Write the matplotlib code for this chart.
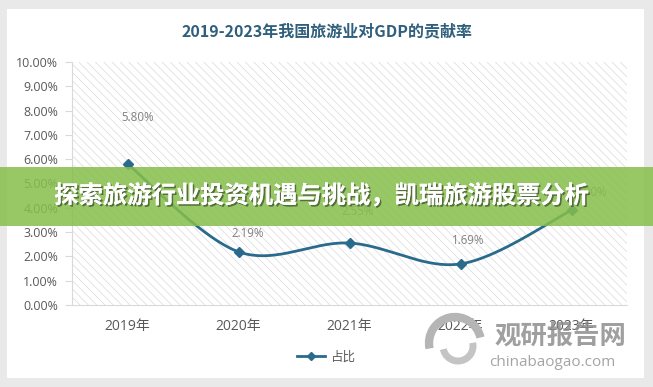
import numpy as np
import matplotlib
matplotlib.use("Agg")
import matplotlib.pyplot as plt
from matplotlib.patches import Rectangle, Arc
import matplotlib.patheffects as pe
from matplotlib.lines import Line2D

years = ["2019年", "2020年", "2021年", "2022年", "2023年"]
values = [5.80, 2.19, 2.55, 1.69, 3.90]
value_labels = ["5.80%", "2.19%", "2.55%", "1.69%", "3.90%"]
yticks = [0, 1, 2, 3, 4, 5, 6, 7, 8, 9, 10]
series_name = "占比"
title = "2019-2023年我国旅游业对GDP的贡献率"
banner = "探索旅游行业投资机遇与挑战，凯瑞旅游股票分析"

FAM = ["Open Sans", "Noto Sans CJK SC", "DejaVu Sans"]
CJK = ["Noto Sans CJK SC", "DejaVu Sans"]
plt.rcParams['font.family'] = FAM
plt.rcParams['hatch.linewidth'] = 0.5
plt.rcParams['hatch.color'] = '#dadada'

W, H = 653, 387
fig = plt.figure(figsize=(W / 100, H / 100), dpi=100)
fig.patch.set_facecolor('#e9e9e9')

def fx(px):
    return px / W

def fy(py):
    return 1 - py / H

# white card
fig.patches.append(Rectangle((fx(7), fy(378)), fx(644) - fx(7), fy(9) - fy(378),
                             transform=fig.transFigure, facecolor='white',
                             edgecolor='none', zorder=-5))

ax = fig.add_axes([fx(72), fy(305), fx(627) - fx(72), fy(62) - fy(305)])
ax.set_zorder(1)
ax.patch.set_alpha(0)

ax.add_patch(Rectangle((0, 0), 1, 1, transform=ax.transAxes, facecolor='white',
                       edgecolor='#dadada', hatch='\\\\\\\\', linewidth=0, zorder=0))

x = np.arange(len(values))
y = np.array(values)

# Excel-style smoothed line (Catmull-Rom / Bezier)
def smooth(xs, ys, n=40):
    P = np.column_stack([xs, ys]).astype(float)
    Pext = np.vstack([P[0], P, P[-1]])
    out = []
    for i in range(len(P) - 1):
        p0, p1, p2, p3 = Pext[i], Pext[i + 1], Pext[i + 2], Pext[i + 3]
        c1 = p1 + (p2 - p0) / 6
        c2 = p2 - (p3 - p1) / 6
        t = np.linspace(0, 1, n)[:, None]
        seg = (1 - t) ** 3 * p1 + 3 * (1 - t) ** 2 * t * c1 + 3 * (1 - t) * t ** 2 * c2 + t ** 3 * p2
        out.append(seg if i == 0 else seg[1:])
    s = np.vstack(out)
    return s[:, 0], s[:, 1]

sx, sy = smooth(x, y)
LC = '#2a6a8c'
ax.plot(sx, sy, color=LC, lw=2.0, zorder=3, solid_capstyle='round')
ax.plot(x, y, linestyle='none', marker='D', ms=5.5, color=LC, zorder=4)

label_off = [(10, 47), (9, 18), (8, 32), (8, 23), (19, 18)]
for xi, yi, lab, off in zip(x, y, value_labels, label_off):
    ax.annotate(lab, (xi, yi), xytext=(off[0] * 0.72, off[1] * 0.72), textcoords='offset points',
                ha='center', va='center', fontsize=8.3, color='#808080', zorder=5)

ax.set_xlim(-0.5, len(values) - 0.5)
ax.set_ylim(0, 10)
ax.set_yticks(yticks)
ax.set_yticklabels([f"{v:.2f}%" for v in yticks], fontsize=8.9, color='#595959')
ax.set_xticks(x)
ax.set_xticklabels(years, fontsize=10, color='#595959')
ax.tick_params(axis='y', length=5, color='#d9d9d9', pad=5)
ax.tick_params(axis='x', length=0, pad=10)
for s in ['top', 'right']:
    ax.spines[s].set_visible(False)
ax.spines['left'].set_color('#d9d9d9')
ax.spines['bottom'].set_color('#d9d9d9')

# legend
h = Line2D([], [], color=LC, lw=2.0, marker='D', ms=4.5)
fig.legend([h], [series_name], loc='center', bbox_to_anchor=(fx(326), fy(357)),
           frameon=False, handlelength=2.2, handletextpad=0.4,
           labelcolor='#595959', prop={'family': CJK, 'size': 9})

# title
fig.text(fx(327), fy(31), title, ha='center', va='center', fontsize=11.5,
         fontweight='bold', color='#2f5f7c', family=CJK)

# watermark
fig.patches.append(Arc((fx(455), fy(343)), fx(52), 52 / H, theta1=20, theta2=200,
                       transform=fig.transFigure, color='#b5b5b5', lw=6, zorder=6))
fig.patches.append(Arc((fx(458), fy(346)), fx(30), 30 / H, theta1=200, theta2=380,
                       transform=fig.transFigure, color='#c4c4c4', lw=5, zorder=6))
fig.text(fx(560), fy(337), "观研报告网", ha='center', va='center', fontsize=19,
         fontweight='heavy', color='#8e8e8e', alpha=0.85, family=CJK, zorder=6)
fig.text(fx(552), fy(363), "chinabaogao.com", ha='center', va='center', fontsize=11,
         color='#9a9a9a', alpha=0.9, zorder=6)

# green banner
fig.patches.append(Rectangle((0, fy(226)), 1, fy(167) - fy(226), transform=fig.transFigure,
                             facecolor='#86bf4c', alpha=0.86, edgecolor='none', zorder=10))
fig.text(fx(321), fy(196), banner, ha='center', va='center', fontsize=17.5,
         fontweight='heavy', color='white', family=CJK, zorder=11,
         path_effects=[pe.withSimplePatchShadow(offset=(1.2, -1.2), shadow_rgbFace='#3a4a2a', alpha=0.7),
                       pe.Normal()])

fig.savefig("out.png", dpi=100, facecolor=fig.get_facecolor())
